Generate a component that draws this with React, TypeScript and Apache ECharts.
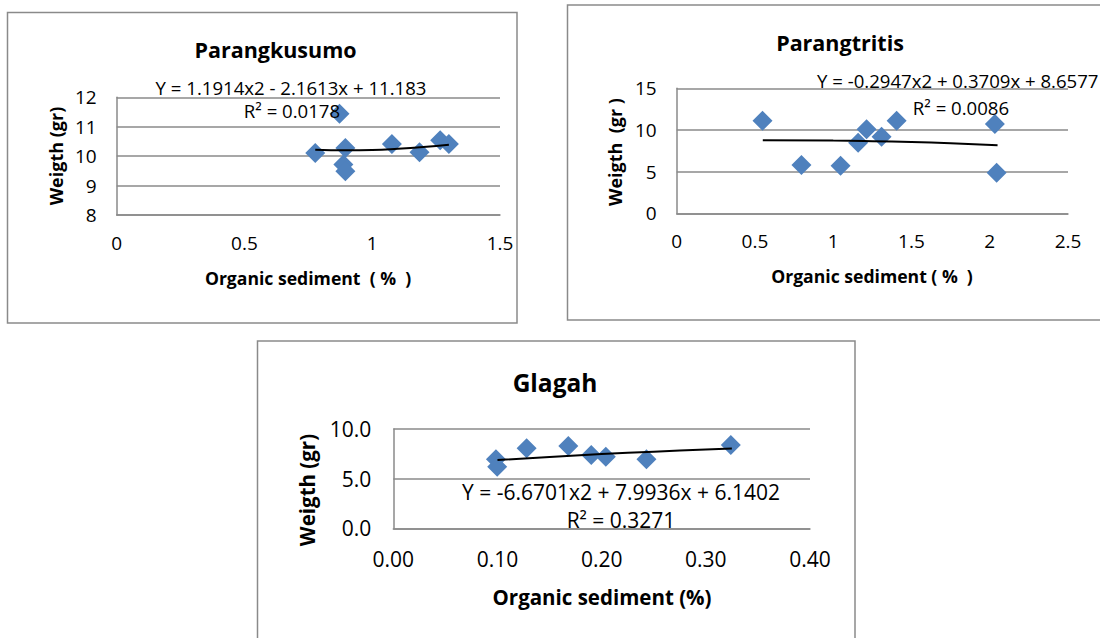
import React, { useEffect, useRef } from "react";
import * as echarts from "echarts";

// Parangkusumo
const pkX = [0.777, 0.872, 0.895, 0.887, 0.895, 1.077, 1.185, 1.266, 1.3];
const pkY = [10.11, 11.44, 10.28, 9.72, 9.49, 10.41, 10.13, 10.54, 10.41];
const pkTrendX = [0.777, 0.9, 1.0, 1.1, 1.2, 1.3];
const pkTrendY = [10.22, 10.2, 10.21, 10.25, 10.31, 10.39];
const pkXTicks = ["0", "0.5", "1", "1.5"];
const pkYTicks = ["8", "9", "10", "11", "12"];

// Parangtritis
const ptX = [0.548, 0.797, 1.047, 1.159, 1.213, 1.309, 1.405, 2.033, 2.044];
const ptY = [11.12, 5.8, 5.72, 8.48, 10.08, 9.2, 11.12, 10.72, 4.88];
const ptTrendX = [0.55, 1.0, 1.25, 1.5, 1.75, 2.05];
const ptTrendY = [8.77, 8.73, 8.66, 8.55, 8.4, 8.18];
const ptXTicks = ["0", "0.5", "1", "1.5", "2", "2.5"];
const ptYTicks = ["0", "5", "10", "15"];

// Glagah
const glX = [0.0985, 0.0997, 0.128, 0.168, 0.19, 0.204, 0.243, 0.324];
const glY = [6.95, 6.2, 8.06, 8.29, 7.38, 7.21, 6.95, 8.39];
const glTrendX = [0.1, 0.15, 0.2, 0.25, 0.3, 0.325];
const glTrendY = [6.87, 7.19, 7.47, 7.72, 7.94, 8.03];
const glXTicks = ["0.00", "0.10", "0.20", "0.30", "0.40"];
const glYTicks = ["0.0", "5.0", "10.0"];

const FONT = "'Open Sans', sans-serif";
const GRID = "#8a8a8a";
const MARK = "#4F81BD";

const zip = (xs: number[], ys: number[]) => xs.map((x, i) => [x, ys[i]]);

function xAxisDef(gi: number, ticks: string[], interval: number, fs: number, margin: number) {
  return {
    type: "value",
    gridIndex: gi,
    min: 0,
    max: Number(ticks[ticks.length - 1]),
    interval,
    axisLine: { show: true, lineStyle: { color: GRID, width: 1.5 } },
    axisTick: { show: false },
    splitLine: { show: false },
    axisLabel: {
      margin,
      fontFamily: FONT,
      fontSize: fs,
      color: "#000",
      formatter: (v: number) => {
        const i = Math.round(v / interval);
        return ticks[i] ?? "";
      },
    },
  };
}

function yAxisDef(gi: number, ticks: string[], interval: number, fs: number, margin: number) {
  const min = Number(ticks[0]);
  return {
    type: "value",
    gridIndex: gi,
    min,
    max: Number(ticks[ticks.length - 1]),
    interval,
    axisLine: { show: true, lineStyle: { color: GRID, width: 1.5 } },
    axisTick: { show: false },
    splitLine: { show: true, lineStyle: { color: GRID, width: 1.5 } },
    axisLabel: {
      margin,
      fontFamily: FONT,
      fontSize: fs,
      color: "#000",
      formatter: (v: number) => {
        const i = Math.round((v - min) / interval);
        return ticks[i] ?? "";
      },
    },
  };
}

function txt(x: number, y: number, text: string, fs: number, bold: boolean, align = "center", rot = 0) {
  return {
    type: "text",
    x,
    y,
    rotation: rot,
    z: 100,
    style: {
      text,
      fontFamily: FONT,
      fontSize: fs,
      fontWeight: bold ? "bold" : "normal",
      fill: "#000",
      textAlign: align,
      textVerticalAlign: "middle",
    },
  };
}

function border(x: number, y: number, w: number, h: number) {
  return {
    type: "rect",
    shape: { x, y, width: w, height: h },
    z: -10,
    style: { fill: "none", stroke: "#8a8a8a", lineWidth: 1.5 },
  };
}

export default function App() {
  const ref = useRef<HTMLDivElement>(null);
  useEffect(() => {
    if (!ref.current) return;
    const chart = echarts.init(ref.current, undefined, { renderer: "svg" });
    const scatter = (gi: number, xs: number[], ys: number[]) => ({
      type: "scatter",
      xAxisIndex: gi,
      yAxisIndex: gi,
      symbol: "diamond",
      symbolSize: 20,
      itemStyle: { color: MARK, opacity: 1 },
      data: zip(xs, ys),
      z: 3,
    });
    const trend = (gi: number, xs: number[], ys: number[]) => ({
      type: "line",
      xAxisIndex: gi,
      yAxisIndex: gi,
      smooth: true,
      showSymbol: false,
      symbol: "none",
      lineStyle: { color: "#000", width: 2 },
      data: zip(xs, ys),
      z: 4,
    });
    chart.setOption({
      animation: false,
      backgroundColor: "#fff",
      grid: [
        { left: 116.7, top: 97.3, width: 383.3, height: 117.7 },
        { left: 676.7, top: 88.3, width: 391.3, height: 125 },
        { left: 393.3, top: 429, width: 416.7, height: 99.3 },
      ],
      xAxis: [
        xAxisDef(0, pkXTicks, 0.5, 19, 18),
        xAxisDef(1, ptXTicks, 0.5, 19, 18),
        xAxisDef(2, glXTicks, 0.1, 21, 20),
      ],
      yAxis: [
        yAxisDef(0, pkYTicks, 1, 19, 20),
        yAxisDef(1, ptYTicks, 5, 19, 20),
        yAxisDef(2, glYTicks, 5, 21, 22),
      ],
      series: [
        scatter(0, pkX, pkY),
        trend(0, pkTrendX, pkTrendY),
        scatter(1, ptX, ptY),
        trend(1, ptTrendX, ptTrendY),
        scatter(2, glX, glY),
        trend(2, glTrendX, glTrendY),
      ],
      graphic: [
        border(7.5, 12.5, 509.5, 310.5),
        border(567.5, 5, 540, 315),
        border(257.5, 341, 597.5, 310),
        txt(275.5, 49, "Parangkusumo", 21.5, true),
        txt(291, 87, "Y = 1.1914x2 - 2.1613x + 11.183", 18.6, false),
        txt(292, 110, "R² = 0.0178", 18.6, false),
        txt(56, 156, "Weigth (gr)", 18, true, "center", Math.PI / 2),
        txt(308, 278, "Organic sediment  ( %  )", 17.6, true),
        txt(840, 42, "Parangtritis", 21.5, true),
        txt(817, 80, "Y = -0.2947x2 + 0.3709x + 8.6577", 18.6, false, "left"),
        txt(961, 107, "R² = 0.0086", 18.6, false),
        txt(615, 152, "Weigth  (gr )", 18, true, "center", Math.PI / 2),
        txt(872, 276, "Organic sediment ( %  )", 17.6, true),
        txt(555, 382, "Glagah", 24.5, true),
        txt(621, 492, "Y = -6.6701x2 + 7.9936x + 6.1402", 21, false),
        txt(621, 520, "R² = 0.3271", 21, false),
        txt(307, 490, "Weigth (gr)", 20.5, true, "center", Math.PI / 2),
        txt(602, 597, "Organic sediment (%)", 20.5, true),
      ],
    });
    return () => chart.dispose();
  }, []);
  return (
    <div
      ref={ref}
      style={{ position: "fixed", left: 0, top: 0, width: 1100, height: 638, background: "#fff" }}
    />
  );
}
